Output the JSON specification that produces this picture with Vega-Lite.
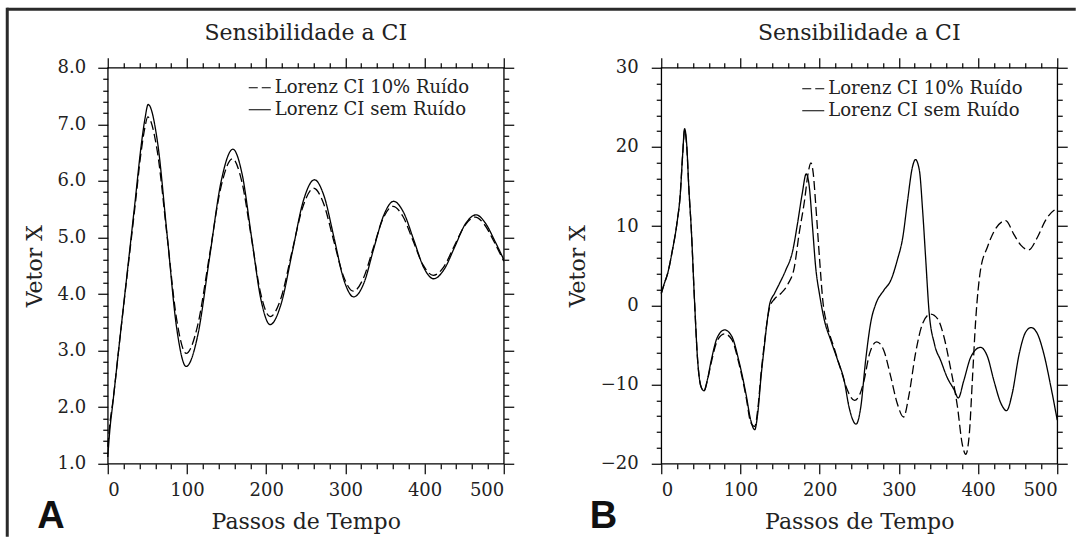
{
  "$schema": "https://vega.github.io/schema/vega-lite/v6.json",
  "padding": {"left": 5.75, "top": 7.75, "right": 0, "bottom": 0},
  "background": "white",
  "config": {
    "font": "DejaVu Serif",
    "view": {"stroke": null},
    "axis": {"domain": false, "grid": false, "tickColor": "black", "tickWidth": 1.2, "labelFont": "DejaVu Serif", "labelFontSize": 18, "labelColor": "#222", "titleFont": "DejaVu Serif", "titleFontSize": 22, "titleFontWeight": "normal", "titleColor": "#222"}
  },
  "datasets": {
    "a": [
      {"passo": 0, "valor": 1.12, "serie": "Lorenz CI sem Ruído"},
      {"passo": 3, "valor": 1.65, "serie": "Lorenz CI sem Ruído"},
      {"passo": 6, "valor": 2.02, "serie": "Lorenz CI sem Ruído"},
      {"passo": 15, "valor": 3.17, "serie": "Lorenz CI sem Ruído"},
      {"passo": 25, "valor": 4.43, "serie": "Lorenz CI sem Ruído"},
      {"passo": 35, "valor": 5.7, "serie": "Lorenz CI sem Ruído"},
      {"passo": 42, "valor": 6.6, "serie": "Lorenz CI sem Ruído"},
      {"passo": 47, "valor": 7.1, "serie": "Lorenz CI sem Ruído"},
      {"passo": 51, "valor": 7.35, "serie": "Lorenz CI sem Ruído"},
      {"passo": 63, "valor": 6.67, "serie": "Lorenz CI sem Ruído"},
      {"passo": 75, "valor": 5.04, "serie": "Lorenz CI sem Ruído"},
      {"passo": 87, "valor": 3.4, "serie": "Lorenz CI sem Ruído"},
      {"passo": 99, "valor": 2.72, "serie": "Lorenz CI sem Ruído"},
      {"passo": 113.8, "valor": 3.28, "serie": "Lorenz CI sem Ruído"},
      {"passo": 128.5, "valor": 4.64, "serie": "Lorenz CI sem Ruído"},
      {"passo": 143.3, "valor": 6.0, "serie": "Lorenz CI sem Ruído"},
      {"passo": 158, "valor": 6.56, "serie": "Lorenz CI sem Ruído"},
      {"passo": 169.8, "valor": 6.11, "serie": "Lorenz CI sem Ruído"},
      {"passo": 181.5, "valor": 5.01, "serie": "Lorenz CI sem Ruído"},
      {"passo": 193.3, "valor": 3.91, "serie": "Lorenz CI sem Ruído"},
      {"passo": 205, "valor": 3.46, "serie": "Lorenz CI sem Ruído"},
      {"passo": 219, "valor": 3.83, "serie": "Lorenz CI sem Ruído"},
      {"passo": 233, "valor": 4.74, "serie": "Lorenz CI sem Ruído"},
      {"passo": 247, "valor": 5.65, "serie": "Lorenz CI sem Ruído"},
      {"passo": 261, "valor": 6.02, "serie": "Lorenz CI sem Ruído"},
      {"passo": 273.4, "valor": 5.72, "serie": "Lorenz CI sem Ruído"},
      {"passo": 285.8, "valor": 4.99, "serie": "Lorenz CI sem Ruído"},
      {"passo": 298.1, "valor": 4.25, "serie": "Lorenz CI sem Ruído"},
      {"passo": 310.5, "valor": 3.95, "serie": "Lorenz CI sem Ruído"},
      {"passo": 323.6, "valor": 4.2, "serie": "Lorenz CI sem Ruído"},
      {"passo": 335.8, "valor": 4.8, "serie": "Lorenz CI sem Ruído"},
      {"passo": 348.4, "valor": 5.39, "serie": "Lorenz CI sem Ruído"},
      {"passo": 361, "valor": 5.64, "serie": "Lorenz CI sem Ruído"},
      {"passo": 373.6, "valor": 5.44, "serie": "Lorenz CI sem Ruído"},
      {"passo": 386.3, "valor": 4.96, "serie": "Lorenz CI sem Ruído"},
      {"passo": 398.9, "valor": 4.47, "serie": "Lorenz CI sem Ruído"},
      {"passo": 411.5, "valor": 4.27, "serie": "Lorenz CI sem Ruído"},
      {"passo": 424.9, "valor": 4.44, "serie": "Lorenz CI sem Ruído"},
      {"passo": 438.3, "valor": 4.84, "serie": "Lorenz CI sem Ruído"},
      {"passo": 451.6, "valor": 5.24, "serie": "Lorenz CI sem Ruído"},
      {"passo": 465, "valor": 5.4, "serie": "Lorenz CI sem Ruído"},
      {"passo": 477, "valor": 5.25, "serie": "Lorenz CI sem Ruído"},
      {"passo": 489, "valor": 4.93, "serie": "Lorenz CI sem Ruído"},
      {"passo": 500, "valor": 4.61, "serie": "Lorenz CI sem Ruído"},
      {"passo": 0, "valor": 1.3, "serie": "Lorenz CI 10% Ruído"},
      {"passo": 3, "valor": 1.75, "serie": "Lorenz CI 10% Ruído"},
      {"passo": 6, "valor": 2.05, "serie": "Lorenz CI 10% Ruído"},
      {"passo": 15, "valor": 3.17, "serie": "Lorenz CI 10% Ruído"},
      {"passo": 25, "valor": 4.4, "serie": "Lorenz CI 10% Ruído"},
      {"passo": 35, "valor": 5.62, "serie": "Lorenz CI 10% Ruído"},
      {"passo": 42, "valor": 6.5, "serie": "Lorenz CI 10% Ruído"},
      {"passo": 47, "valor": 6.95, "serie": "Lorenz CI 10% Ruído"},
      {"passo": 50.5, "valor": 7.13, "serie": "Lorenz CI 10% Ruído"},
      {"passo": 62.6, "valor": 6.52, "serie": "Lorenz CI 10% Ruído"},
      {"passo": 74.8, "valor": 5.04, "serie": "Lorenz CI 10% Ruído"},
      {"passo": 86.9, "valor": 3.56, "serie": "Lorenz CI 10% Ruído"},
      {"passo": 99, "valor": 2.95, "serie": "Lorenz CI 10% Ruído"},
      {"passo": 113.6, "valor": 3.45, "serie": "Lorenz CI 10% Ruído"},
      {"passo": 128.3, "valor": 4.67, "serie": "Lorenz CI 10% Ruído"},
      {"passo": 142.9, "valor": 5.89, "serie": "Lorenz CI 10% Ruído"},
      {"passo": 157.5, "valor": 6.39, "serie": "Lorenz CI 10% Ruído"},
      {"passo": 169.4, "valor": 5.98, "serie": "Lorenz CI 10% Ruído"},
      {"passo": 181.3, "valor": 5.0, "serie": "Lorenz CI 10% Ruído"},
      {"passo": 193.1, "valor": 4.01, "serie": "Lorenz CI 10% Ruído"},
      {"passo": 205, "valor": 3.6, "serie": "Lorenz CI 10% Ruído"},
      {"passo": 218.8, "valor": 3.93, "serie": "Lorenz CI 10% Ruído"},
      {"passo": 232.5, "valor": 4.74, "serie": "Lorenz CI 10% Ruído"},
      {"passo": 246.3, "valor": 5.54, "serie": "Lorenz CI 10% Ruído"},
      {"passo": 260, "valor": 5.87, "serie": "Lorenz CI 10% Ruído"},
      {"passo": 272.5, "valor": 5.6, "serie": "Lorenz CI 10% Ruído"},
      {"passo": 285, "valor": 4.96, "serie": "Lorenz CI 10% Ruído"},
      {"passo": 297.5, "valor": 4.32, "serie": "Lorenz CI 10% Ruído"},
      {"passo": 310, "valor": 4.05, "serie": "Lorenz CI 10% Ruído"},
      {"passo": 322.5, "valor": 4.27, "serie": "Lorenz CI 10% Ruído"},
      {"passo": 335, "valor": 4.8, "serie": "Lorenz CI 10% Ruído"},
      {"passo": 347.5, "valor": 5.33, "serie": "Lorenz CI 10% Ruído"},
      {"passo": 360, "valor": 5.55, "serie": "Lorenz CI 10% Ruído"},
      {"passo": 372.8, "valor": 5.37, "serie": "Lorenz CI 10% Ruído"},
      {"passo": 385.5, "valor": 4.94, "serie": "Lorenz CI 10% Ruído"},
      {"passo": 398.3, "valor": 4.51, "serie": "Lorenz CI 10% Ruído"},
      {"passo": 411, "valor": 4.33, "serie": "Lorenz CI 10% Ruído"},
      {"passo": 424.3, "valor": 4.48, "serie": "Lorenz CI 10% Ruído"},
      {"passo": 437.5, "valor": 4.85, "serie": "Lorenz CI 10% Ruído"},
      {"passo": 450.8, "valor": 5.21, "serie": "Lorenz CI 10% Ruído"},
      {"passo": 464, "valor": 5.36, "serie": "Lorenz CI 10% Ruído"},
      {"passo": 476, "valor": 5.22, "serie": "Lorenz CI 10% Ruído"},
      {"passo": 488, "valor": 4.92, "serie": "Lorenz CI 10% Ruído"},
      {"passo": 500, "valor": 4.58, "serie": "Lorenz CI 10% Ruído"}
    ],
    "b": [
      {"passo": 0, "valor": 1.5, "serie": "Lorenz CI sem Ruído"},
      {"passo": 4, "valor": 2.8, "serie": "Lorenz CI sem Ruído"},
      {"passo": 8, "valor": 4.0, "serie": "Lorenz CI sem Ruído"},
      {"passo": 14, "valor": 6.9, "serie": "Lorenz CI sem Ruído"},
      {"passo": 20, "valor": 10.5, "serie": "Lorenz CI sem Ruído"},
      {"passo": 24, "valor": 14.0, "serie": "Lorenz CI sem Ruído"},
      {"passo": 27, "valor": 19.0, "serie": "Lorenz CI sem Ruído"},
      {"passo": 29.5, "valor": 22.3, "serie": "Lorenz CI sem Ruído"},
      {"passo": 32, "valor": 20.5, "serie": "Lorenz CI sem Ruído"},
      {"passo": 35, "valor": 14.5, "serie": "Lorenz CI sem Ruído"},
      {"passo": 38, "valor": 9.5, "serie": "Lorenz CI sem Ruído"},
      {"passo": 42, "valor": 0.6, "serie": "Lorenz CI sem Ruído"},
      {"passo": 46, "valor": -7.0, "serie": "Lorenz CI sem Ruído"},
      {"passo": 50, "valor": -10.2, "serie": "Lorenz CI sem Ruído"},
      {"passo": 54, "valor": -10.8, "serie": "Lorenz CI sem Ruído"},
      {"passo": 58, "valor": -9.5, "serie": "Lorenz CI sem Ruído"},
      {"passo": 63, "valor": -7.0, "serie": "Lorenz CI sem Ruído"},
      {"passo": 71, "valor": -4.0, "serie": "Lorenz CI sem Ruído"},
      {"passo": 80, "valor": -3.1, "serie": "Lorenz CI sem Ruído"},
      {"passo": 89, "valor": -3.9, "serie": "Lorenz CI sem Ruído"},
      {"passo": 98, "valor": -7.0, "serie": "Lorenz CI sem Ruído"},
      {"passo": 107, "valor": -11.2, "serie": "Lorenz CI sem Ruído"},
      {"passo": 113, "valor": -14.5, "serie": "Lorenz CI sem Ruído"},
      {"passo": 118, "valor": -15.7, "serie": "Lorenz CI sem Ruído"},
      {"passo": 122, "valor": -13.5, "serie": "Lorenz CI sem Ruído"},
      {"passo": 126, "valor": -9.0, "serie": "Lorenz CI sem Ruído"},
      {"passo": 130, "valor": -5.3, "serie": "Lorenz CI sem Ruído"},
      {"passo": 134, "valor": -1.8, "serie": "Lorenz CI sem Ruído"},
      {"passo": 137, "valor": 0.2, "serie": "Lorenz CI sem Ruído"},
      {"passo": 143, "valor": 1.5, "serie": "Lorenz CI sem Ruído"},
      {"passo": 149, "valor": 2.7, "serie": "Lorenz CI sem Ruído"},
      {"passo": 157, "valor": 4.4, "serie": "Lorenz CI sem Ruído"},
      {"passo": 166, "valor": 6.9, "serie": "Lorenz CI sem Ruído"},
      {"passo": 172, "valor": 10.3, "serie": "Lorenz CI sem Ruído"},
      {"passo": 178, "valor": 14.1, "serie": "Lorenz CI sem Ruído"},
      {"passo": 183, "valor": 16.6, "serie": "Lorenz CI sem Ruído"},
      {"passo": 187, "valor": 14.9, "serie": "Lorenz CI sem Ruído"},
      {"passo": 191, "valor": 9.9, "serie": "Lorenz CI sem Ruído"},
      {"passo": 195, "valor": 4.8, "serie": "Lorenz CI sem Ruído"},
      {"passo": 200, "valor": 1.3, "serie": "Lorenz CI sem Ruído"},
      {"passo": 206, "valor": -1.9, "serie": "Lorenz CI sem Ruído"},
      {"passo": 214, "valor": -4.4, "serie": "Lorenz CI sem Ruído"},
      {"passo": 223, "valor": -7.0, "serie": "Lorenz CI sem Ruído"},
      {"passo": 231, "valor": -9.5, "serie": "Lorenz CI sem Ruído"},
      {"passo": 237, "valor": -12.8, "serie": "Lorenz CI sem Ruído"},
      {"passo": 246, "valor": -15.0, "serie": "Lorenz CI sem Ruído"},
      {"passo": 252, "valor": -12.8, "serie": "Lorenz CI sem Ruído"},
      {"passo": 258, "valor": -7.0, "serie": "Lorenz CI sem Ruído"},
      {"passo": 265, "valor": -1.9, "serie": "Lorenz CI sem Ruído"},
      {"passo": 271, "valor": 0.2, "serie": "Lorenz CI sem Ruído"},
      {"passo": 281, "valor": 1.9, "serie": "Lorenz CI sem Ruído"},
      {"passo": 290, "valor": 3.2, "serie": "Lorenz CI sem Ruído"},
      {"passo": 298, "valor": 5.7, "serie": "Lorenz CI sem Ruído"},
      {"passo": 305, "valor": 8.6, "serie": "Lorenz CI sem Ruído"},
      {"passo": 311, "valor": 13.2, "serie": "Lorenz CI sem Ruído"},
      {"passo": 317, "valor": 17.4, "serie": "Lorenz CI sem Ruído"},
      {"passo": 321, "valor": 18.4, "serie": "Lorenz CI sem Ruído"},
      {"passo": 326, "valor": 17.0, "serie": "Lorenz CI sem Ruído"},
      {"passo": 330, "valor": 12.0, "serie": "Lorenz CI sem Ruído"},
      {"passo": 334, "valor": 5.7, "serie": "Lorenz CI sem Ruído"},
      {"passo": 338, "valor": -0.6, "serie": "Lorenz CI sem Ruído"},
      {"passo": 345, "valor": -4.9, "serie": "Lorenz CI sem Ruído"},
      {"passo": 353, "valor": -7.0, "serie": "Lorenz CI sem Ruído"},
      {"passo": 361, "valor": -9.1, "serie": "Lorenz CI sem Ruído"},
      {"passo": 370, "valor": -10.7, "serie": "Lorenz CI sem Ruído"},
      {"passo": 375, "valor": -11.7, "serie": "Lorenz CI sem Ruído"},
      {"passo": 382, "valor": -9.5, "serie": "Lorenz CI sem Ruído"},
      {"passo": 391, "valor": -6.5, "serie": "Lorenz CI sem Ruído"},
      {"passo": 403, "valor": -5.3, "serie": "Lorenz CI sem Ruído"},
      {"passo": 412, "valor": -6.5, "serie": "Lorenz CI sem Ruído"},
      {"passo": 420, "valor": -9.5, "serie": "Lorenz CI sem Ruído"},
      {"passo": 429, "valor": -12.4, "serie": "Lorenz CI sem Ruído"},
      {"passo": 436, "valor": -13.3, "serie": "Lorenz CI sem Ruído"},
      {"passo": 443, "valor": -11.2, "serie": "Lorenz CI sem Ruído"},
      {"passo": 452, "valor": -6.1, "serie": "Lorenz CI sem Ruído"},
      {"passo": 460, "valor": -3.4, "serie": "Lorenz CI sem Ruído"},
      {"passo": 467, "valor": -2.8, "serie": "Lorenz CI sem Ruído"},
      {"passo": 475, "valor": -3.6, "serie": "Lorenz CI sem Ruído"},
      {"passo": 483, "valor": -6.1, "serie": "Lorenz CI sem Ruído"},
      {"passo": 492, "valor": -10.3, "serie": "Lorenz CI sem Ruído"},
      {"passo": 500, "valor": -14.5, "serie": "Lorenz CI sem Ruído"},
      {"passo": 0, "valor": 1.5, "serie": "Lorenz CI 10% Ruído"},
      {"passo": 4, "valor": 2.8, "serie": "Lorenz CI 10% Ruído"},
      {"passo": 8, "valor": 4.0, "serie": "Lorenz CI 10% Ruído"},
      {"passo": 14, "valor": 6.9, "serie": "Lorenz CI 10% Ruído"},
      {"passo": 20, "valor": 10.5, "serie": "Lorenz CI 10% Ruído"},
      {"passo": 24, "valor": 14.0, "serie": "Lorenz CI 10% Ruído"},
      {"passo": 27, "valor": 19.0, "serie": "Lorenz CI 10% Ruído"},
      {"passo": 29.5, "valor": 22.1, "serie": "Lorenz CI 10% Ruído"},
      {"passo": 32, "valor": 20.3, "serie": "Lorenz CI 10% Ruído"},
      {"passo": 35, "valor": 14.5, "serie": "Lorenz CI 10% Ruído"},
      {"passo": 38, "valor": 9.5, "serie": "Lorenz CI 10% Ruído"},
      {"passo": 42, "valor": 0.6, "serie": "Lorenz CI 10% Ruído"},
      {"passo": 46, "valor": -7.0, "serie": "Lorenz CI 10% Ruído"},
      {"passo": 50, "valor": -10.2, "serie": "Lorenz CI 10% Ruído"},
      {"passo": 54, "valor": -10.8, "serie": "Lorenz CI 10% Ruído"},
      {"passo": 58, "valor": -9.6, "serie": "Lorenz CI 10% Ruído"},
      {"passo": 63, "valor": -7.3, "serie": "Lorenz CI 10% Ruído"},
      {"passo": 71, "valor": -4.4, "serie": "Lorenz CI 10% Ruído"},
      {"passo": 80, "valor": -3.6, "serie": "Lorenz CI 10% Ruído"},
      {"passo": 89, "valor": -4.3, "serie": "Lorenz CI 10% Ruído"},
      {"passo": 98, "valor": -7.3, "serie": "Lorenz CI 10% Ruído"},
      {"passo": 107, "valor": -11.5, "serie": "Lorenz CI 10% Ruído"},
      {"passo": 113, "valor": -14.8, "serie": "Lorenz CI 10% Ruído"},
      {"passo": 118, "valor": -15.3, "serie": "Lorenz CI 10% Ruído"},
      {"passo": 122, "valor": -13.0, "serie": "Lorenz CI 10% Ruído"},
      {"passo": 126, "valor": -8.6, "serie": "Lorenz CI 10% Ruído"},
      {"passo": 130, "valor": -5.0, "serie": "Lorenz CI 10% Ruído"},
      {"passo": 134, "valor": -1.8, "serie": "Lorenz CI 10% Ruído"},
      {"passo": 137, "valor": -0.2, "serie": "Lorenz CI 10% Ruído"},
      {"passo": 143, "valor": 0.8, "serie": "Lorenz CI 10% Ruído"},
      {"passo": 151, "valor": 1.5, "serie": "Lorenz CI 10% Ruído"},
      {"passo": 160, "valor": 2.7, "serie": "Lorenz CI 10% Ruído"},
      {"passo": 168, "valor": 4.8, "serie": "Lorenz CI 10% Ruído"},
      {"passo": 174, "valor": 9.0, "serie": "Lorenz CI 10% Ruído"},
      {"passo": 181, "valor": 13.3, "serie": "Lorenz CI 10% Ruído"},
      {"passo": 185, "valor": 16.4, "serie": "Lorenz CI 10% Ruído"},
      {"passo": 189, "valor": 18.0, "serie": "Lorenz CI 10% Ruído"},
      {"passo": 192, "valor": 16.6, "serie": "Lorenz CI 10% Ruído"},
      {"passo": 195, "valor": 12.8, "serie": "Lorenz CI 10% Ruído"},
      {"passo": 200, "valor": 5.7, "serie": "Lorenz CI 10% Ruído"},
      {"passo": 204, "valor": 0.6, "serie": "Lorenz CI 10% Ruído"},
      {"passo": 210, "valor": -2.7, "serie": "Lorenz CI 10% Ruído"},
      {"passo": 218, "valor": -5.3, "serie": "Lorenz CI 10% Ruído"},
      {"passo": 227, "valor": -8.2, "serie": "Lorenz CI 10% Ruído"},
      {"passo": 235, "valor": -10.7, "serie": "Lorenz CI 10% Ruído"},
      {"passo": 244, "valor": -12.0, "serie": "Lorenz CI 10% Ruído"},
      {"passo": 250, "valor": -11.4, "serie": "Lorenz CI 10% Ruído"},
      {"passo": 256, "valor": -9.5, "serie": "Lorenz CI 10% Ruído"},
      {"passo": 263, "valor": -6.1, "serie": "Lorenz CI 10% Ruído"},
      {"passo": 272, "valor": -4.6, "serie": "Lorenz CI 10% Ruído"},
      {"passo": 281, "valor": -5.7, "serie": "Lorenz CI 10% Ruído"},
      {"passo": 290, "valor": -9.1, "serie": "Lorenz CI 10% Ruído"},
      {"passo": 298, "valor": -12.4, "serie": "Lorenz CI 10% Ruído"},
      {"passo": 306, "valor": -14.1, "serie": "Lorenz CI 10% Ruído"},
      {"passo": 313, "valor": -11.2, "serie": "Lorenz CI 10% Ruído"},
      {"passo": 321, "valor": -6.1, "serie": "Lorenz CI 10% Ruído"},
      {"passo": 330, "valor": -2.3, "serie": "Lorenz CI 10% Ruído"},
      {"passo": 340, "valor": -1.1, "serie": "Lorenz CI 10% Ruído"},
      {"passo": 349, "valor": -1.7, "serie": "Lorenz CI 10% Ruído"},
      {"passo": 357, "valor": -4.0, "serie": "Lorenz CI 10% Ruído"},
      {"passo": 365, "valor": -7.8, "serie": "Lorenz CI 10% Ruído"},
      {"passo": 374, "valor": -12.8, "serie": "Lorenz CI 10% Ruído"},
      {"passo": 380, "valor": -17.5, "serie": "Lorenz CI 10% Ruído"},
      {"passo": 384.5, "valor": -18.8, "serie": "Lorenz CI 10% Ruído"},
      {"passo": 389, "valor": -16.2, "serie": "Lorenz CI 10% Ruído"},
      {"passo": 393, "valor": -9.1, "serie": "Lorenz CI 10% Ruído"},
      {"passo": 397, "valor": -1.9, "serie": "Lorenz CI 10% Ruído"},
      {"passo": 403, "valor": 4.4, "serie": "Lorenz CI 10% Ruído"},
      {"passo": 412, "valor": 7.4, "serie": "Lorenz CI 10% Ruído"},
      {"passo": 420, "valor": 9.3, "serie": "Lorenz CI 10% Ruído"},
      {"passo": 435, "valor": 10.7, "serie": "Lorenz CI 10% Ruído"},
      {"passo": 445, "valor": 9.0, "serie": "Lorenz CI 10% Ruído"},
      {"passo": 454, "valor": 7.6, "serie": "Lorenz CI 10% Ruído"},
      {"passo": 464, "valor": 7.0, "serie": "Lorenz CI 10% Ruído"},
      {"passo": 475, "valor": 8.6, "serie": "Lorenz CI 10% Ruído"},
      {"passo": 485, "valor": 10.7, "serie": "Lorenz CI 10% Ruído"},
      {"passo": 496, "valor": 12.0, "serie": "Lorenz CI 10% Ruído"},
      {"passo": 500, "valor": 12.2, "serie": "Lorenz CI 10% Ruído"}
    ]
  },
  "resolve": {"scale": {"strokeDash": "independent"}, "legend": {"strokeDash": "independent"}},
  "spacing": 0,
  "bounds": "flush",
  "hconcat": [
    {
      "width": 1, "height": 527,
      "data": {"values": []},
      "mark": {"type": "point", "opacity": 0},
      "view": {"stroke": "#2a2a2a", "strokeWidth": 2}
    },
    {
      "resolve": {"scale": {"strokeDash": "independent"}, "legend": {"strokeDash": "independent"}},
      "spacing": 58,
      "bounds": "flush",
      "vconcat": [
        {
          "width": 1067, "height": 1,
          "data": {"values": []},
          "mark": {"type": "point", "opacity": 0},
          "view": {"stroke": "#2a2a2a", "strokeWidth": 2}
        },
        {
          "resolve": {"scale": {"strokeDash": "independent"}, "legend": {"strokeDash": "independent"}},
          "spacing": 99,
          "bounds": "flush",
          "hconcat": [
            {
              "width": 1, "height": 1,
              "data": {"values": []},
              "mark": {"type": "point", "opacity": 0}
            },
            {
              "resolve": {"scale": {"strokeDash": "independent"}, "legend": {"strokeDash": "independent"}},
              "spacing": 157.5,
              "bounds": "flush",
              "hconcat": [
                {
                  "width": 396, "height": 396,
                  "data": {"name": "a"},
                  "title": {"text": "Sensibilidade a CI", "frame": "group", "anchor": "middle", "baseline": "alphabetic", "offset": -5, "font": "DejaVu Serif", "fontSize": 22, "fontWeight": "normal", "color": "#222"},
                  "view": {"stroke": "black", "strokeWidth": 1.3},
                  "resolve": {"axis": {"x": "independent", "y": "independent"}},
                  "layer": [
                    {
                      "mark": {"type": "line", "interpolate": "monotone", "color": "black", "strokeWidth": 1.3},
                      "encoding": {
                        "x": {"field": "passo", "type": "quantitative", "scale": {"domain": [0, 500], "nice": false, "zero": false},
                          "axis": {"orient": "bottom", "values": [0, 100, 200, 300, 400, 500], "tickSize": 10, "labelPadding": 8, "title": "Passos de Tempo", "titlePadding": 12}},
                        "y": {"field": "valor", "type": "quantitative", "scale": {"domain": [1, 8], "nice": false, "zero": false},
                          "axis": {"orient": "left", "values": [1, 2, 3, 4, 5, 6, 7, 8], "format": ".1f", "tickSize": 10, "labelPadding": 12, "title": "Vetor X", "titlePadding": 11}},
                        "strokeDash": {"field": "serie", "type": "nominal",
                          "scale": {"domain": ["Lorenz CI 10% Ruído", "Lorenz CI sem Ruído"], "range": [[9, 4], [1, 0]]},
                          "legend": {"orient": "none", "legendX": 140, "legendY": 8, "title": null, "symbolType": "stroke", "symbolSize": 484, "symbolStrokeColor": "black", "symbolStrokeWidth": 1.2, "labelFont": "DejaVu Serif", "labelFontSize": 18, "labelColor": "#222", "labelOffset": 3, "rowPadding": 1, "padding": 0, "labelLimit": 400}}
                      }
                    },
                    {
                      "mark": {"type": "point", "opacity": 0},
                      "encoding": {
                        "x": {"field": "passo", "type": "quantitative", "scale": {"domain": [0, 500], "nice": false, "zero": false},
                          "axis": {"orient": "bottom", "values": [20, 40, 60, 80, 120, 140, 160, 180, 220, 240, 260, 280, 320, 340, 360, 380, 420, 440, 460, 480], "tickSize": 5, "labels": false,
                            "title": "A", "titleFont": "Liberation Sans", "titleFontWeight": "bold", "titleFontSize": 38, "titleColor": "#111", "titleX": -71, "titleY": 64, "titleAlign": "left", "titleBaseline": "alphabetic"}},
                        "y": {"field": "valor", "type": "quantitative", "scale": {"domain": [1, 8], "nice": false, "zero": false},
                          "axis": {"orient": "left", "values": [1.2, 1.4, 1.6, 1.8, 2.2, 2.4, 2.6, 2.8, 3.2, 3.4, 3.6, 3.8, 4.2, 4.4, 4.6, 4.8, 5.2, 5.4, 5.6, 5.8, 6.2, 6.4, 6.6, 6.8, 7.2, 7.4, 7.6, 7.8], "tickSize": 5, "labels": false, "title": null}}
                      }
                    },
                    {
                      "mark": {"type": "point", "opacity": 0},
                      "encoding": {
                        "x": {"field": "passo", "type": "quantitative", "scale": {"domain": [0, 500], "nice": false, "zero": false},
                          "axis": {"orient": "top", "values": [0, 100, 200, 300, 400, 500], "tickSize": 10, "labels": false, "title": null}},
                        "y": {"field": "valor", "type": "quantitative", "scale": {"domain": [1, 8], "nice": false, "zero": false},
                          "axis": {"orient": "right", "values": [1, 2, 3, 4, 5, 6, 7, 8], "tickSize": 10, "labels": false, "title": null}}
                      }
                    },
                    {
                      "mark": {"type": "point", "opacity": 0},
                      "encoding": {
                        "x": {"field": "passo", "type": "quantitative", "scale": {"domain": [0, 500], "nice": false, "zero": false},
                          "axis": {"orient": "top", "values": [20, 40, 60, 80, 120, 140, 160, 180, 220, 240, 260, 280, 320, 340, 360, 380, 420, 440, 460, 480], "tickSize": 5, "labels": false, "title": null}},
                        "y": {"field": "valor", "type": "quantitative", "scale": {"domain": [1, 8], "nice": false, "zero": false},
                          "axis": {"orient": "right", "values": [1.2, 1.4, 1.6, 1.8, 2.2, 2.4, 2.6, 2.8, 3.2, 3.4, 3.6, 3.8, 4.2, 4.4, 4.6, 4.8, 5.2, 5.4, 5.6, 5.8, 6.2, 6.4, 6.6, 6.8, 7.2, 7.4, 7.6, 7.8], "tickSize": 5, "labels": false, "title": null}}
                      }
                    }
                  ]
                },
                {
                  "width": 396, "height": 396,
                  "data": {"name": "b"},
                  "title": {"text": "Sensibilidade a CI", "frame": "group", "anchor": "middle", "baseline": "alphabetic", "offset": -5, "font": "DejaVu Serif", "fontSize": 22, "fontWeight": "normal", "color": "#222"},
                  "view": {"stroke": "black", "strokeWidth": 1.3},
                  "resolve": {"axis": {"x": "independent", "y": "independent"}},
                  "layer": [
                    {
                      "mark": {"type": "line", "interpolate": "monotone", "color": "black", "strokeWidth": 1.3},
                      "encoding": {
                        "x": {"field": "passo", "type": "quantitative", "scale": {"domain": [0, 500], "nice": false, "zero": false},
                          "axis": {"orient": "bottom", "values": [0, 100, 200, 300, 400, 500], "tickSize": 10, "labelPadding": 8, "title": "Passos de Tempo", "titlePadding": 12}},
                        "y": {"field": "valor", "type": "quantitative", "scale": {"domain": [-20, 30], "nice": false, "zero": false},
                          "axis": {"orient": "left", "values": [-20, -10, 0, 10, 20, 30], "format": "d", "tickSize": 10, "labelPadding": 13, "title": "Vetor X", "titlePadding": 11}},
                        "strokeDash": {"field": "serie", "type": "nominal",
                          "scale": {"domain": ["Lorenz CI 10% Ruído", "Lorenz CI sem Ruído"], "range": [[9, 4], [1, 0]]},
                          "legend": {"orient": "none", "legendX": 140, "legendY": 9, "title": null, "symbolType": "stroke", "symbolSize": 484, "symbolStrokeColor": "black", "symbolStrokeWidth": 1.2, "labelFont": "DejaVu Serif", "labelFontSize": 18, "labelColor": "#222", "labelOffset": 3, "rowPadding": 1, "padding": 0, "labelLimit": 400}}
                      }
                    },
                    {
                      "mark": {"type": "point", "opacity": 0},
                      "encoding": {
                        "x": {"field": "passo", "type": "quantitative", "scale": {"domain": [0, 500], "nice": false, "zero": false},
                          "axis": {"orient": "bottom", "values": [20, 40, 60, 80, 120, 140, 160, 180, 220, 240, 260, 280, 320, 340, 360, 380, 420, 440, 460, 480], "tickSize": 5, "labels": false,
                            "title": "B", "titleFont": "Liberation Sans", "titleFontWeight": "bold", "titleFontSize": 38, "titleColor": "#111", "titleX": -72, "titleY": 64, "titleAlign": "left", "titleBaseline": "alphabetic"}},
                        "y": {"field": "valor", "type": "quantitative", "scale": {"domain": [-20, 30], "nice": false, "zero": false},
                          "axis": {"orient": "left", "values": [-18, -16, -14, -12, -8, -6, -4, -2, 2, 4, 6, 8, 12, 14, 16, 18, 22, 24, 26, 28], "tickSize": 5, "labels": false, "title": null}}
                      }
                    },
                    {
                      "mark": {"type": "point", "opacity": 0},
                      "encoding": {
                        "x": {"field": "passo", "type": "quantitative", "scale": {"domain": [0, 500], "nice": false, "zero": false},
                          "axis": {"orient": "top", "values": [0, 100, 200, 300, 400, 500], "tickSize": 10, "labels": false, "title": null}},
                        "y": {"field": "valor", "type": "quantitative", "scale": {"domain": [-20, 30], "nice": false, "zero": false},
                          "axis": {"orient": "right", "values": [-20, -10, 0, 10, 20, 30], "tickSize": 10, "labels": false, "title": null}}
                      }
                    },
                    {
                      "mark": {"type": "point", "opacity": 0},
                      "encoding": {
                        "x": {"field": "passo", "type": "quantitative", "scale": {"domain": [0, 500], "nice": false, "zero": false},
                          "axis": {"orient": "top", "values": [20, 40, 60, 80, 120, 140, 160, 180, 220, 240, 260, 280, 320, 340, 360, 380, 420, 440, 460, 480], "tickSize": 5, "labels": false, "title": null}},
                        "y": {"field": "valor", "type": "quantitative", "scale": {"domain": [-20, 30], "nice": false, "zero": false},
                          "axis": {"orient": "right", "values": [-18, -16, -14, -12, -8, -6, -4, -2, 2, 4, 6, 8, 12, 14, 16, 18, 22, 24, 26, 28], "tickSize": 5, "labels": false, "title": null}}
                      }
                    }
                  ]
                }
              ]
            }
          ]
        }
      ]
    }
  ]
}
